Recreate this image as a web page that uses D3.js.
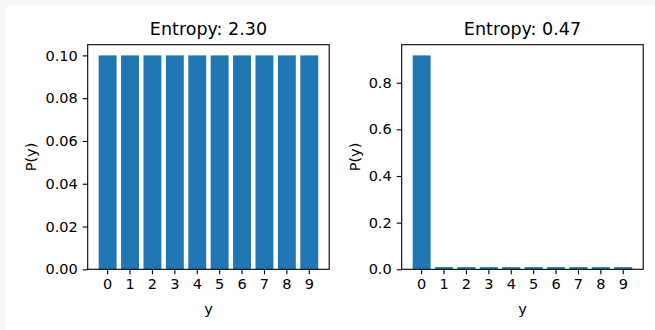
<!DOCTYPE html>
<html>
<head>
<meta charset="utf-8">
<script src="https://cdn.jsdelivr.net/npm/d3@7"></script>
<style>
  body { margin: 0; background: #f8f8f8; }
  svg { display: block; }
  text { font-family: "DejaVu Sans", sans-serif; fill: #000; }
</style>
</head>
<body>
<svg id="chart" width="655" height="330"></svg>
<script>
// data
var categories = ["0", "1", "2", "3", "4", "5", "6", "7", "8", "9"];
var uniformP = [0.1, 0.1, 0.1, 0.1, 0.1, 0.1, 0.1, 0.1, 0.1, 0.1];
var peakedP = [0.917, 0.0092, 0.0092, 0.0092, 0.0092, 0.0092, 0.0092, 0.0092, 0.0092, 0.0092];
var titles = ["Entropy: 2.30", "Entropy: 0.47"];
var uniformTicks = [0, 0.02, 0.04, 0.06, 0.08, 0.10];
var peakedTicks = [0, 0.2, 0.4, 0.6, 0.8];

var svg = d3.select("#chart");
svg.append("rect").attr("x", 6).attr("y", 6).attr("width", 649).attr("height", 324).style("fill", "#fff");

var plotTop = 44.7, plotBottom = 269.3, panelW = 241.5;

function panel(left, values, ticks, fmt, title) {
	var g = svg.append("g").attr("transform", "translate(" + left + ",0)");
	var x = d3.scaleBand().domain(categories).range([0, panelW]).paddingInner(0.2).paddingOuter(0.49);
	var ymax = d3.max(values) * 1.05;
	var y = d3.scaleLinear().domain([0, ymax]).range([plotBottom, plotTop]);

	g.selectAll("rect.bar")
		.data(values)
		.enter()
		.append("rect")
		.attr("class", "bar")
		.attr("x", function(d, i) { return x(categories[i]); })
		.attr("y", function(d) { return y(d); })
		.attr("width", x.bandwidth())
		.attr("height", function(d) { return plotBottom - y(d); })
		.style("fill", "#1f77b4");

	var xAxis = g.append("g").attr("transform", "translate(0," + plotBottom + ")")
		.call(d3.axisBottom(x).tickSize(5).tickPadding(4));
	var yAxis = g.append("g")
		.call(d3.axisLeft(y).tickValues(ticks).tickFormat(d3.format(fmt)).tickSize(5).tickPadding(5));
	[xAxis, yAxis].forEach(function(a) {
		a.select(".domain").remove();
		a.selectAll("line").style("stroke", "#000").style("stroke-width", 1.1);
		a.selectAll("text").style("font-size", "14.5px").style("font-family", "DejaVu Sans");
	});

	g.append("rect")
		.attr("x", 0).attr("y", plotTop)
		.attr("width", panelW).attr("height", plotBottom - plotTop)
		.style("fill", "none").style("stroke", "#000").style("stroke-width", 1.1);

	g.append("text")
		.attr("x", panelW / 2).attr("y", 35)
		.attr("text-anchor", "middle")
		.style("font-size", "17.5px")
		.text(title);

	g.append("text")
		.attr("x", panelW / 2).attr("y", 314)
		.attr("text-anchor", "middle")
		.style("font-size", "14.5px")
		.text("y");

	return g;
}

var g1 = panel(87.7, uniformP, uniformTicks, ".2f", titles[0]);
g1.append("text")
	.attr("transform", "translate(-52," + ((plotTop + plotBottom) / 2) + ") rotate(-90)")
	.attr("text-anchor", "middle")
	.style("font-size", "14.5px")
	.text("P(y)");

var g2 = panel(401.7, peakedP, peakedTicks, ".1f", titles[1]);
g2.append("text")
	.attr("transform", "translate(-42," + ((plotTop + plotBottom) / 2) + ") rotate(-90)")
	.attr("text-anchor", "middle")
	.style("font-size", "14.5px")
	.text("P(y)");
</script>
</body>
</html>
